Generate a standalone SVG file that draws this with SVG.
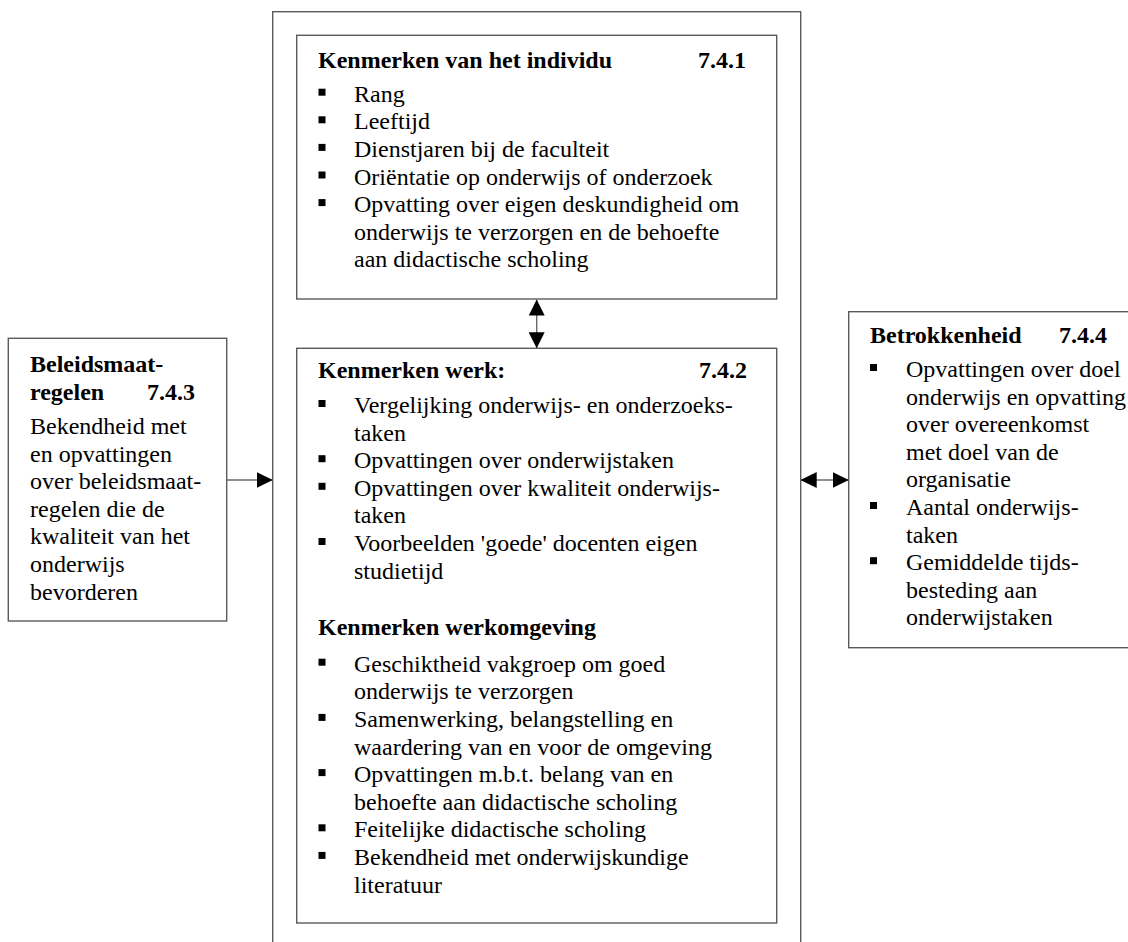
<svg xmlns="http://www.w3.org/2000/svg" width="1128" height="942" viewBox="0 0 1128 942">
  <style>
    .box { fill: none; stroke: #5a5a5a; stroke-width: 1.4; }
    .link { fill: none; stroke: #6a6a6a; stroke-width: 1.4; }
    text { font-family: "Liberation Serif", "Times New Roman", serif; font-size: 24px; fill: #000; }
    .h { font-weight: bold; }
    .r { text-anchor: end; }
    .bul { fill: #000; }
  </style>
  <defs>
    <marker id="head" markerUnits="userSpaceOnUse" markerWidth="16" markerHeight="16" viewBox="0 0 16 16" refX="16" refY="8" orient="auto-start-reverse">
      <path d="M0,0 L16,8 L0,16 Z" fill="#000"/>
    </marker>
    <rect id="sq" width="7" height="7"/>
  </defs>

  <rect width="1128" height="942" fill="#fff"/>

  <!-- enclosing frame around the individual / work characteristics -->
  <g id="frame">
    <rect class="box" x="272.7" y="11.7" width="528" height="960"/>
  </g>

  <!-- 7.4.1 -->
  <g id="individu">
    <rect class="box" x="296.7" y="35.3" width="480" height="263.7"/>
    <text class="h" x="318" y="68">Kenmerken van het individu</text>
    <text class="h r" x="746" y="68">7.4.1</text>
    <g class="bul">
      <use href="#sq" x="318.5" y="88.7"/>
      <use href="#sq" x="318.5" y="116.3"/>
      <use href="#sq" x="318.5" y="143.9"/>
      <use href="#sq" x="318.5" y="171.5"/>
      <use href="#sq" x="318.5" y="199.1"/>
    </g>
    <text x="354" y="101.7">Rang</text>
    <text x="354" y="129.3">Leeftijd</text>
    <text x="354" y="156.9">Dienstjaren bij de faculteit</text>
    <text x="354" y="184.5">Oriëntatie op onderwijs of onderzoek</text>
    <text x="354" y="212.1">Opvatting over eigen deskundigheid om</text>
    <text x="354" y="239.7">onderwijs te verzorgen en de behoefte</text>
    <text x="354" y="267.3">aan didactische scholing</text>
  </g>

  <!-- 7.4.2 -->
  <g id="werk">
    <rect class="box" x="296.7" y="348.3" width="480" height="574.7"/>
    <text class="h" x="318" y="378">Kenmerken werk:</text>
    <text class="h r" x="747" y="378">7.4.2</text>
    <g class="bul">
      <use href="#sq" x="318.5" y="400"/>
      <use href="#sq" x="318.5" y="455.2"/>
      <use href="#sq" x="318.5" y="482.8"/>
      <use href="#sq" x="318.5" y="538"/>
    </g>
    <text x="354" y="413">Vergelijking onderwijs- en onderzoeks-</text>
    <text x="354" y="440.6">taken</text>
    <text x="354" y="468.2">Opvattingen over onderwijstaken</text>
    <text x="354" y="495.8">Opvattingen over kwaliteit onderwijs-</text>
    <text x="354" y="523.4">taken</text>
    <text x="354" y="551">Voorbeelden 'goede' docenten eigen</text>
    <text x="354" y="578.6">studietijd</text>

    <text class="h" x="318" y="635">Kenmerken werkomgeving</text>
    <g class="bul">
      <use href="#sq" x="318.5" y="658.7"/>
      <use href="#sq" x="318.5" y="713.9"/>
      <use href="#sq" x="318.5" y="769.1"/>
      <use href="#sq" x="318.5" y="824.3"/>
      <use href="#sq" x="318.5" y="851.9"/>
    </g>
    <text x="354" y="671.7">Geschiktheid vakgroep om goed</text>
    <text x="354" y="699.3">onderwijs te verzorgen</text>
    <text x="354" y="726.9">Samenwerking, belangstelling en</text>
    <text x="354" y="754.5">waardering van en voor de omgeving</text>
    <text x="354" y="782.1">Opvattingen m.b.t. belang van en</text>
    <text x="354" y="809.7">behoefte aan didactische scholing</text>
    <text x="354" y="837.3">Feitelijke didactische scholing</text>
    <text x="354" y="864.9">Bekendheid met onderwijskundige</text>
    <text x="354" y="892.5">literatuur</text>
  </g>

  <!-- 7.4.3 -->
  <g id="beleid">
    <rect class="box" x="8.3" y="338.3" width="218.4" height="282.7"/>
    <text class="h" x="30" y="372">Beleidsmaat-</text>
    <text class="h" x="30" y="400">regelen</text>
    <text class="h r" x="195" y="400">7.4.3</text>
    <text x="30" y="434">Bekendheid met</text>
    <text x="30" y="461.6">en opvattingen</text>
    <text x="30" y="489.2">over beleidsmaat-</text>
    <text x="30" y="516.8">regelen die de</text>
    <text x="30" y="544.4">kwaliteit van het</text>
    <text x="30" y="572">onderwijs</text>
    <text x="30" y="599.6">bevorderen</text>
  </g>

  <!-- 7.4.4 -->
  <g id="betrokkenheid">
    <rect class="box" x="848.7" y="311.7" width="300" height="336"/>
    <text class="h" x="870" y="343">Betrokkenheid</text>
    <text class="h r" x="1107" y="343">7.4.4</text>
    <g class="bul">
      <use href="#sq" x="870" y="364"/>
      <use href="#sq" x="870" y="502"/>
      <use href="#sq" x="870" y="557.2"/>
    </g>
    <text x="906" y="377">Opvattingen over doel</text>
    <text x="906" y="404.6">onderwijs en opvatting</text>
    <text x="906" y="432.2">over overeenkomst</text>
    <text x="906" y="459.8">met doel van de</text>
    <text x="906" y="487.4">organisatie</text>
    <text x="906" y="515">Aantal onderwijs-</text>
    <text x="906" y="542.6">taken</text>
    <text x="906" y="570.2">Gemiddelde tijds-</text>
    <text x="906" y="597.8">besteding aan</text>
    <text x="906" y="625.4">onderwijstaken</text>
  </g>

  <g id="connectors">
    <line class="link" x1="536.7" y1="299.5" x2="536.7" y2="348.3" marker-start="url(#head)" marker-end="url(#head)"/>
    <line class="link" x1="226.7" y1="480" x2="272.7" y2="480" marker-end="url(#head)"/>
    <line class="link" x1="800.7" y1="480" x2="848.7" y2="480" marker-start="url(#head)" marker-end="url(#head)"/>
  </g>
</svg>
